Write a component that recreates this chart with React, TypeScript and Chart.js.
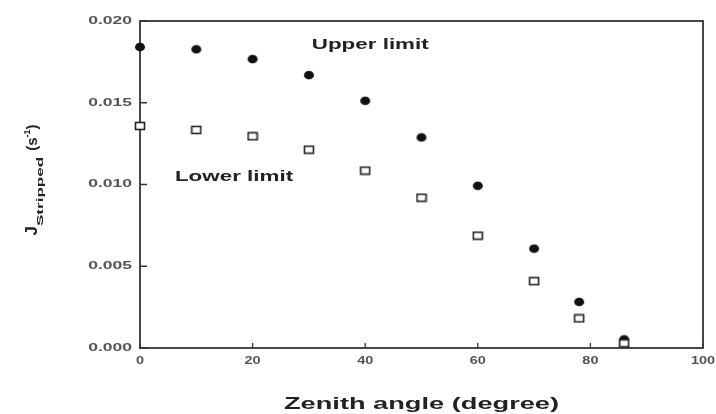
import React, { useEffect, useRef } from "react";
import { Chart, registerables } from "chart.js";

Chart.register(...registerables);

const zenithAngles = [0, 10, 20, 30, 40, 50, 60, 70, 78, 86];
const upperLimit = [0.01841, 0.01827, 0.01767, 0.01669, 0.01512, 0.01288, 0.00992, 0.00608, 0.00282, 0.00053];
const lowerLimit = [0.01358, 0.01334, 0.01295, 0.01213, 0.01085, 0.00919, 0.00687, 0.00409, 0.00181, 0.00029];
const xTickValues = [0, 20, 40, 60, 80, 100];
const xTickLabels = ["0", "20", "40", "60", "80", "100"];
const yTickValues = [0, 0.005, 0.01, 0.015, 0.02];
const yTickLabels = ["0.000", "0.005", "0.010", "0.015", "0.020"];
const upperLabel = "Upper limit";
const lowerLabel = "Lower limit";
const xTitle = "Zenith angle (degree)";

function makeMarker(kind: "filled" | "open"): HTMLCanvasElement {
  const c = document.createElement("canvas");
  c.width = 12;
  c.height = 10;
  const g = c.getContext("2d")!;
  if (kind === "filled") {
    g.fillStyle = "#111";
    g.beginPath();
    g.ellipse(6, 5, 5, 4.3, 0, 0, Math.PI * 2);
    g.fill();
  } else {
    g.fillStyle = "#fff";
    g.fillRect(1, 1.5, 10, 7);
    g.strokeStyle = "#222";
    g.lineWidth = 1.6;
    g.strokeRect(1.5, 1.5, 9, 7);
  }
  return c;
}

function stretchText(
  ctx: CanvasRenderingContext2D,
  text: string,
  x: number,
  y: number,
  font: string,
  sx: number,
  align: "left" | "center" | "right",
  color: string
) {
  ctx.save();
  ctx.font = font;
  ctx.fillStyle = color;
  ctx.textBaseline = "middle";
  ctx.textAlign = "left";
  const w = ctx.measureText(text).width * sx;
  let left = x;
  if (align === "center") left = x - w / 2;
  if (align === "right") left = x - w;
  ctx.translate(left, y);
  ctx.scale(sx, 1);
  ctx.fillText(text, 0, 0);
  ctx.restore();
}

const decorPlugin = {
  id: "decor",
  beforeDatasetsDraw(chart: any) {
    const { ctx, chartArea } = chart;
    const xs = chart.scales.x;
    const ys = chart.scales.y;
    ctx.save();
    ctx.strokeStyle = "#333";
    ctx.lineWidth = 1.8;
    ctx.strokeRect(chartArea.left, chartArea.top, chartArea.right - chartArea.left, chartArea.bottom - chartArea.top);
    ctx.lineWidth = 1.3;
    ctx.beginPath();
    for (const v of yTickValues) {
      const py = ys.getPixelForValue(v);
      ctx.moveTo(chartArea.left, py);
      ctx.lineTo(chartArea.left + 7, py);
    }
    for (const v of xTickValues) {
      const px = xs.getPixelForValue(v);
      ctx.moveTo(px, chartArea.bottom);
      ctx.lineTo(px, chartArea.bottom - 5);
    }
    ctx.stroke();
    ctx.restore();
  },
  afterDraw(chart: any) {
    const { ctx, chartArea } = chart;
    const xs = chart.scales.x;
    const ys = chart.scales.y;
    const tickFont = "bold 10px 'Liberation Sans', Arial, sans-serif";
    yTickValues.forEach((v, i) => {
      stretchText(ctx, yTickLabels[i], chartArea.left - 8, ys.getPixelForValue(v), tickFont, 1.75, "right", "#555");
    });
    xTickValues.forEach((v, i) => {
      stretchText(ctx, xTickLabels[i], xs.getPixelForValue(v), chartArea.bottom + 13, tickFont, 1.45, "center", "#555");
    });
    const annFont = "bold 14px 'Liberation Sans', Arial, sans-serif";
    stretchText(ctx, upperLabel, xs.getPixelForValue(30.5), ys.getPixelForValue(0.01855), annFont, 1.6, "left", "#222");
    stretchText(ctx, lowerLabel, xs.getPixelForValue(6.2), ys.getPixelForValue(0.01045), annFont, 1.6, "left", "#222");
    const titleFont = "bold 17px 'Liberation Sans', Arial, sans-serif";
    stretchText(ctx, xTitle, (chartArea.left + chartArea.right) / 2, 404, titleFont, 1.6, "center", "#222");

    // y-axis title: J_Stripped (s^-1), rotated
    ctx.save();
    ctx.translate(32, 180);
    ctx.rotate(-Math.PI / 2);
    ctx.fillStyle = "#222";
    ctx.textBaseline = "alphabetic";
    ctx.textAlign = "left";
    const jFont = "bold 17px 'Liberation Sans', Arial, sans-serif";
    const subFont = "bold 9px 'Liberation Sans', Arial, sans-serif";
    const unitFont = "bold 15px 'Liberation Sans', Arial, sans-serif";
    const supFont = "bold 9px 'Liberation Sans', Arial, sans-serif";
    ctx.font = jFont;
    const wJ = ctx.measureText("J").width;
    ctx.font = subFont;
    const subSx = 1.9;
    const wSub = ctx.measureText("Stripped").width * subSx;
    ctx.font = unitFont;
    const wOpen = ctx.measureText("(s").width;
    const wClose = ctx.measureText(")").width;
    ctx.font = supFont;
    const wSup = ctx.measureText("-1").width;
    const gap = 6;
    const total = wJ + wSub + gap + wOpen + wSup + wClose;
    let cx = -total / 2;
    const base = 5;
    ctx.font = jFont;
    ctx.fillText("J", cx, base);
    cx += wJ;
    ctx.save();
    ctx.font = subFont;
    ctx.translate(cx, base + 6);
    ctx.scale(subSx, 1);
    ctx.fillText("Stripped", 0, 0);
    ctx.restore();
    cx += wSub + gap;
    ctx.font = unitFont;
    ctx.fillText("(s", cx, base);
    cx += wOpen;
    ctx.font = supFont;
    ctx.fillText("-1", cx, base - 7);
    cx += wSup;
    ctx.font = unitFont;
    ctx.fillText(")", cx, base);
    ctx.restore();
  },
};

export default function App() {
  const ref = useRef<HTMLCanvasElement | null>(null);
  useEffect(() => {
    if (!ref.current) return;
    const filled = makeMarker("filled");
    const open = makeMarker("open");
    const chart = new Chart(ref.current, {
      type: "scatter",
      data: {
        datasets: [
          {
            label: "Lower limit",
            data: zenithAngles.map((x, i) => ({ x, y: lowerLimit[i] })),
            pointStyle: open as any,
            pointRadius: 5,
            showLine: false,
            clip: false as any,
          },
          {
            label: "Upper limit",
            data: zenithAngles.map((x, i) => ({ x, y: upperLimit[i] })),
            pointStyle: filled as any,
            pointRadius: 5,
            showLine: false,
            clip: false as any,
          },
        ],
      },
      options: {
        animation: false,
        responsive: false,
        maintainAspectRatio: false,
        layout: { padding: { top: 21, right: 13, left: 0, bottom: 0 } },
        plugins: { legend: { display: false }, tooltip: { enabled: false } },
        scales: {
          x: {
            type: "linear",
            min: 0,
            max: 100,
            ticks: { display: false, stepSize: 20 },
            grid: { display: false, drawTicks: false },
            border: { display: false },
            afterFit: (s: any) => {
              s.height = 66;
            },
          },
          y: {
            type: "linear",
            min: 0,
            max: 0.02,
            ticks: { display: false, stepSize: 0.005 },
            grid: { display: false, drawTicks: false },
            border: { display: false },
            afterFit: (s: any) => {
              s.width = 140;
            },
          },
        },
      },
      plugins: [decorPlugin],
    });
    return () => chart.destroy();
  }, []);
  return (
    <div style={{ position: "absolute", left: 0, top: 0, width: 716, height: 414, background: "#fff" }}>
      <canvas ref={ref} width={716} height={414} style={{ width: 716, height: 414, display: "block" }} />
    </div>
  );
}
